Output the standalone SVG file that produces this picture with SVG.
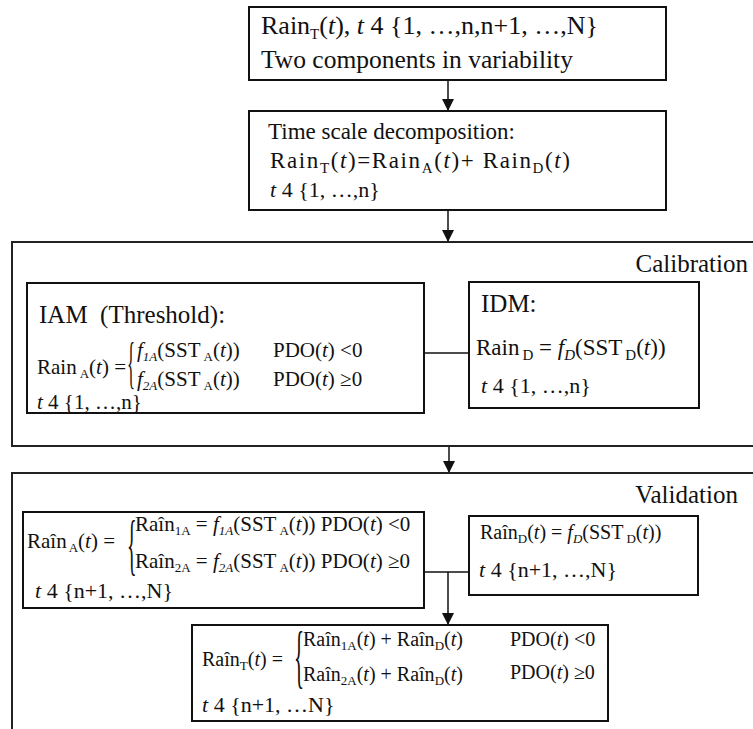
<svg xmlns="http://www.w3.org/2000/svg" width="753" height="729" viewBox="0 0 753 729">
<defs>
<style>
.box{fill:#fff;stroke:#111;stroke-width:2}
.frame{fill:none;stroke:#222;stroke-width:2}
.conn{fill:none;stroke:#111;stroke-width:1.5}
.t{font-family:"Liberation Serif","Times New Roman",serif;font-size:25px;fill:#111}
.eq{font-size:21px}
.eq2{font-size:20px}
.tt{font-size:22px}
.s{font-size:15px}
.ss{font-size:13px}
.i{font-style:italic}
.br{font-family:"Liberation Serif","Times New Roman",serif;fill:#111}
</style>
<marker id="arr" markerUnits="userSpaceOnUse" markerWidth="12" markerHeight="14" refX="12" refY="6" orient="auto">
<path d="M0,0 L12,6 L0,12 Z" fill="#111"/>
</marker>
</defs>

<g id="connectors">
<line class="conn" x1="448" y1="80" x2="448" y2="111" marker-end="url(#arr)"/>
<line class="conn" x1="448" y1="210" x2="448" y2="242" marker-end="url(#arr)"/>
<line class="conn" x1="449" y1="446" x2="449" y2="473" marker-end="url(#arr)"/>
<line class="conn" x1="424" y1="353" x2="469" y2="353"/>
<line class="conn" x1="424" y1="572" x2="469" y2="572"/>
<line class="conn" x1="448" y1="572" x2="448" y2="625" marker-end="url(#arr)"/>
</g>

<g id="calibration-frame">
<path class="frame" d="M753,242 H12 V446 H753"/>
<text class="t" x="748" y="272" text-anchor="end">Calibration</text>
</g>

<g id="validation-frame">
<path class="frame" d="M753,473 H12 V729"/>
<text class="t" x="738" y="503" text-anchor="end">Validation</text>
</g>

<g id="node-input">
<rect class="box" x="249" y="7" width="417" height="73"/>
<text class="t" x="261" y="34" style="font-size:26px">Rain<tspan class="s" dy="5">T</tspan><tspan dy="-5">(</tspan><tspan class="i">t</tspan>), <tspan class="i">t</tspan> 4  {1, …,n,n+1, …,N}</text>
<text class="t" x="261" y="68" style="font-size:25.5px">Two components in variability</text>
</g>

<g id="node-decomposition">
<rect class="box" x="249" y="111" width="417" height="99"/>
<text class="t" x="268" y="139" style="font-size:23px">Time scale decomposition:</text>
<text class="t" x="270" y="168" style="font-size:23px" textLength="300">Rain<tspan class="s" dy="5">T</tspan><tspan dy="-5">(</tspan><tspan class="i">t</tspan>)=Rain<tspan class="s" dy="5">A</tspan><tspan dy="-5">(</tspan><tspan class="i">t</tspan>)+ Rain<tspan class="s" dy="5">D</tspan><tspan dy="-5">(</tspan><tspan class="i">t</tspan>)</text>
<text class="t tt" x="270" y="197"><tspan class="i">t</tspan> 4 {1, …,n}</text>
</g>

<g id="node-iam">
<rect class="box" x="27" y="283" width="397" height="130"/>
<text class="t" x="39" y="323" xml:space="preserve">IAM  (Threshold):</text>
<text class="t eq" x="37" y="374">Rain<tspan class="ss" dx="3" dy="4">A</tspan><tspan dy="-4">(</tspan><tspan class="i">t</tspan>) =</text>
<text class="br" font-size="56" transform="translate(127,382) scale(0.3,1)">{</text>
<text class="t eq" x="137" y="357"><tspan class="i">f</tspan><tspan class="ss i" dy="4">1A</tspan><tspan dy="-4">(SST</tspan><tspan class="ss" dx="3" dy="4">A</tspan><tspan dy="-4">(</tspan><tspan class="i">t</tspan>))</text>
<text class="t eq" x="273" y="357">PDO(<tspan class="i">t</tspan>) &lt;0</text>
<text class="t eq" x="137" y="386"><tspan class="i">f</tspan><tspan class="ss i" dy="4">2A</tspan><tspan dy="-4">(SST</tspan><tspan class="ss" dx="3" dy="4">A</tspan><tspan dy="-4">(</tspan><tspan class="i">t</tspan>))</text>
<text class="t eq" x="273" y="386">PDO(<tspan class="i">t</tspan>) ≥0</text>
<text class="t" x="37" y="409" style="font-size:21px"><tspan class="i">t</tspan> 4 {1, …,n}</text>
</g>

<g id="node-idm">
<rect class="box" x="469" y="282" width="230" height="126"/>
<text class="t" x="481" y="312">IDM:</text>
<text class="t" x="476" y="355" style="font-size:23px">Rain<tspan class="s" dx="3" dy="5">D</tspan><tspan dy="-5"> = </tspan><tspan class="i">f</tspan><tspan class="s i" dy="5">D</tspan><tspan dy="-5">(SST</tspan><tspan class="s" dx="3" dy="5">D</tspan><tspan dy="-5">(</tspan><tspan class="i">t</tspan>))</text>
<text class="t tt" x="481" y="393"><tspan class="i">t</tspan> 4 {1, …,n}</text>
</g>

<g id="node-iam-validation">
<rect class="box" x="23" y="512" width="401" height="96"/>
<text class="t eq" x="27" y="548">Raîn<tspan class="ss" dx="2" dy="4">A</tspan><tspan dy="-4">(</tspan><tspan class="i">t</tspan>) =</text>
<text class="br" font-size="67" transform="translate(127,567) scale(0.3,1)">{</text>
<text class="t eq" x="135" y="531">Raîn<tspan class="ss" dy="4">1A</tspan><tspan dy="-4"> = </tspan><tspan class="i">f</tspan><tspan class="ss i" dy="4">1A</tspan><tspan dy="-4">(SST</tspan><tspan class="ss" dx="3" dy="4">A</tspan><tspan dy="-4">(</tspan><tspan class="i">t</tspan>)) PDO(<tspan class="i">t</tspan>) &lt;0</text>
<text class="t eq" x="135" y="568">Raîn<tspan class="ss" dy="4">2A</tspan><tspan dy="-4"> = </tspan><tspan class="i">f</tspan><tspan class="ss i" dy="4">2A</tspan><tspan dy="-4">(SST</tspan><tspan class="ss" dx="3" dy="4">A</tspan><tspan dy="-4">(</tspan><tspan class="i">t</tspan>)) PDO(<tspan class="i">t</tspan>) ≥0</text>
<text class="t tt" x="35" y="598"><tspan class="i">t</tspan> 4 {n+1, …,N}</text>
</g>

<g id="node-idm-validation">
<rect class="box" x="469" y="516" width="229" height="79"/>
<text class="t eq2" x="480" y="539">Raîn<tspan class="ss" dy="4">D</tspan><tspan dy="-4">(</tspan><tspan class="i">t</tspan>) = <tspan class="i">f</tspan><tspan class="ss i" dy="4">D</tspan><tspan dy="-4">(SST</tspan><tspan class="ss" dx="3" dy="4">D</tspan><tspan dy="-4">(</tspan><tspan class="i">t</tspan>))</text>
<text class="t tt" x="479" y="577"><tspan class="i">t</tspan> 4 {n+1, …,N}</text>
</g>

<g id="node-total">
<rect class="box" x="192" y="625" width="416" height="96"/>
<text class="t eq2" x="202" y="666">Raîn<tspan class="ss" dy="4">T</tspan><tspan dy="-4">(</tspan><tspan class="i">t</tspan>) =</text>
<text class="br" font-size="70" transform="translate(294,680) scale(0.3,1)">{</text>
<text class="t eq2" x="303" y="646">Raîn<tspan class="ss" dy="4">1A</tspan><tspan dy="-4">(</tspan><tspan class="i">t</tspan>) + Raîn<tspan class="ss" dy="4">D</tspan><tspan dy="-4">(</tspan><tspan class="i">t</tspan>)</text>
<text class="t eq2" x="510" y="646">PDO(<tspan class="i">t</tspan>) &lt;0</text>
<text class="t eq2" x="303" y="681">Raîn<tspan class="ss" dy="4">2A</tspan><tspan dy="-4">(</tspan><tspan class="i">t</tspan>) + Raîn<tspan class="ss" dy="4">D</tspan><tspan dy="-4">(</tspan><tspan class="i">t</tspan>)</text>
<text class="t eq2" x="510" y="679">PDO(<tspan class="i">t</tspan>) ≥0</text>
<text class="t tt" x="202" y="712"><tspan class="i">t</tspan> 4 {n+1, …N}</text>
</g>
</svg>
